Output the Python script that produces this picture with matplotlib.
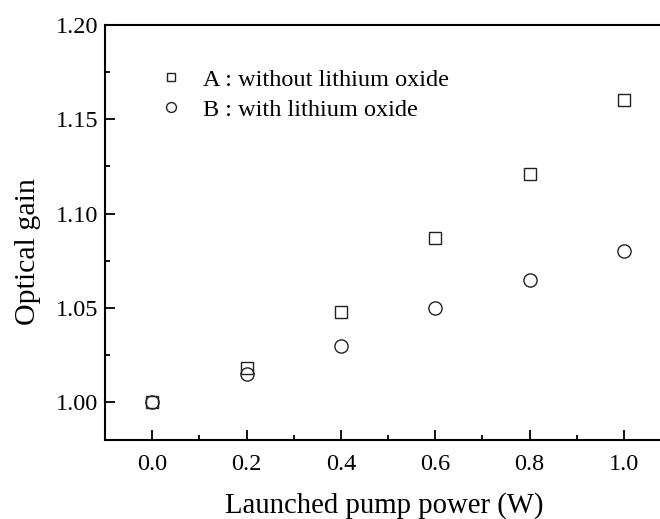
import matplotlib
matplotlib.use("Agg")
import matplotlib.pyplot as plt
from matplotlib.ticker import MultipleLocator

power = [0.0, 0.2, 0.4, 0.6, 0.8, 1.0]
gain_a = [1.000, 1.018, 1.048, 1.087, 1.121, 1.160]
gain_b = [1.000, 1.015, 1.030, 1.050, 1.065, 1.080]
label_a = "A : without lithium oxide"
label_b = "B : with lithium oxide"

plt.rcParams['font.family'] = ['Liberation Serif', 'DejaVu Serif']

fig = plt.figure(figsize=(6.6, 5.19), dpi=100)
ax = fig.add_axes([0.159, 0.152, 0.858, 0.800])

ax.plot(power, gain_a, linestyle='none', marker='s', markersize=8.5,
        markerfacecolor='none', markeredgecolor='#222222', markeredgewidth=1.0, label=label_a)
ax.plot(power, gain_b, linestyle='none', marker='o', markersize=9.5,
        markerfacecolor='none', markeredgecolor='#222222', markeredgewidth=1.0, label=label_b)

ax.set_xlim(-0.1, 1.1)
ax.set_ylim(0.98, 1.20)
ax.xaxis.set_major_locator(MultipleLocator(0.2))
ax.xaxis.set_minor_locator(MultipleLocator(0.1))
ax.yaxis.set_major_locator(MultipleLocator(0.05))
ax.yaxis.set_minor_locator(MultipleLocator(0.025))
ax.xaxis.set_major_formatter(plt.FormatStrFormatter('%.1f'))
ax.yaxis.set_major_formatter(plt.FormatStrFormatter('%.2f'))

ax.tick_params(which='both', direction='in', top=False, right=False, width=1.3)
ax.tick_params(which='major', length=7, labelsize=17.5)
ax.tick_params(axis='x', which='major', pad=10)
ax.tick_params(axis='y', which='major', pad=5)
ax.tick_params(which='minor', length=3.5)
for s in ax.spines.values():
    s.set_linewidth(1.5)

ax.set_xlabel("Launched pump power (W)", fontsize=20.7, labelpad=12, x=0.493)
ax.set_ylabel("Optical gain", fontsize=21.5, labelpad=10, y=0.453)

ax.legend(loc='upper left', bbox_to_anchor=(0.057, 0.947), frameon=False,
          fontsize=17.5, markerscale=0.75, handlelength=1.0, handletextpad=0.82,
          labelspacing=0.33)

fig.savefig("out.png", dpi=100)
